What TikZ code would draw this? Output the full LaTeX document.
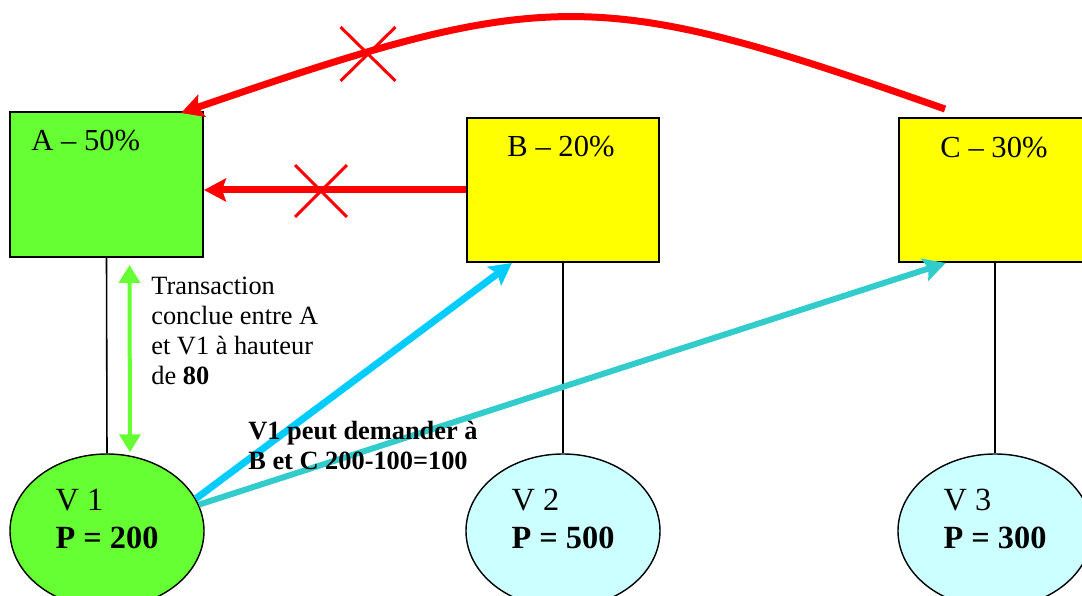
\documentclass[tikz,border=0pt]{standalone}
\usepackage{fontspec}
\setmainfont{Liberation Serif}
\usetikzlibrary{arrows.meta,shapes.geometric,shapes.misc,calc}
\definecolor{vertA}{HTML}{66FF33}
\definecolor{jaune}{HTML}{FFFF00}
\definecolor{ciel}{HTML}{CCFFFF}
\definecolor{bleu}{HTML}{00CCFF}
\definecolor{turquoise}{HTML}{33CCCC}
\begin{document}
\begin{tikzpicture}[
  box/.style={draw, line width=1.1pt, minimum width=3.84cm, minimum height=2.88cm, inner sep=0pt},
  vend/.style={ellipse, draw, line width=0.8pt, minimum width=3.88cm, minimum height=3.08cm,
    inner sep=0pt, align=left, font=\fontsize{18.4}{21.6}\selectfont},
  boxlab/.style={anchor=base, inner sep=0pt, font=\fontsize{17.4}{20}\selectfont},
  note/.style={anchor=north west, inner sep=0pt, align=left, font=\fontsize{15}{17}\selectfont},
  link/.style={line width=0.9pt},
  refus/.style={draw=red, cross out, line width=1.7pt, minimum width=0.98cm, minimum height=0.98cm, inner sep=0pt},
  fleche/.style={-{Stealth[length=0.44cm, width=0.46cm, inset=0.08cm]}, line width=0.14cm}
]
\useasboundingbox (0,0) rectangle (21.64,11.92);
\node[box, fill=vertA, minimum width=3.86cm, minimum height=2.9cm] (A) at (2.13,8.23) {};
\node[box, fill=jaune] (B) at (11.26,8.12) {};
\node[box, fill=jaune] (C) at (19.9,8.12) {};
\node[boxlab, anchor=base west] (Alab) at ($(A.north west)+(0.44,-0.78)$) {A – 50\%};
\node[boxlab] (Blab) at ($(B.north)+(-0.04,-0.78)$) {B – 20\%};
\node[boxlab] (Clab) at ($(C.north)+(-0.02,-0.8)$) {C – 30\%};
\node[vend, fill=vertA] (V1) at (2.14,1.3) {V 1\\ \textbf{P = 200}\rule[-0.5cm]{0pt}{0pt}};
\node[vend, fill=ciel] (V2) at (11.26,1.3) {V 2\\ \textbf{P = 500}\rule[-0.5cm]{0pt}{0pt}};
\node[vend, fill=ciel] (V3) at (19.9,1.3) {V 3\\ \textbf{P = 300}\rule[-0.5cm]{0pt}{0pt}};
\draw[link] (A.south) -- (V1.north);
\draw[link] (B.south) -- (V2.north);
\draw[link] (C.south) -- (V3.north);
\draw[{Triangle[length=0.36cm,width=0.42cm]}-{Triangle[length=0.36cm,width=0.42cm]}, draw=vertA, line width=0.08cm]
  ($(A.south)+(0.46,-0.14)$) -- ($(V1.north)+(0.46,0.02)$);
\node[note] (deal) at (3.02,6.38) {Transaction\\conclue entre A\\et V1 à hauteur\\de \textbf{80}};
\draw[fleche, draw=red] (B.west) -- (B.west -| A.east);
\draw[fleche, draw=red] ($(C.north west)+(0.94,0.16)$) .. controls (11.9,12.2) and (11.0,12.2) .. ($(A.north east)+(-0.46,-0.04)$);
\node[refus] (x1) at (6.42,8.1) {};
\node[refus, minimum width=1.04cm, minimum height=1.02cm] (x2) at (7.36,10.84) {};
\draw[fleche, draw=turquoise, line width=0.12cm] (V1.16) -- (C.236);
\draw[fleche, draw=bleu] (V1.20) -- (B.235);
\node[note, font=\fontsize{15}{17}\selectfont\bfseries] (demande) at (4.96,3.5) {V1 peut demander à\\B et C 200-100=100};
\end{tikzpicture}
\end{document}
